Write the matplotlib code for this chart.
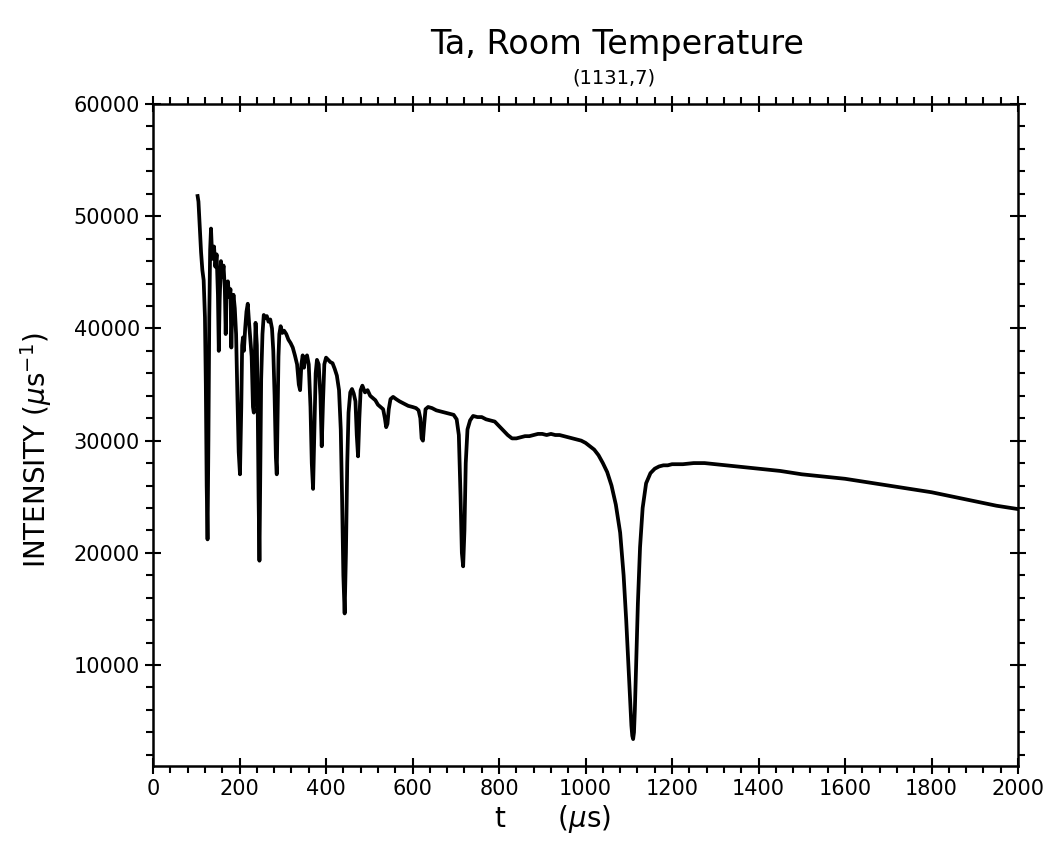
import matplotlib
matplotlib.use('Agg')
import matplotlib.pyplot as plt
from matplotlib.ticker import MultipleLocator

# time of flight (us) and intensity (1/us)
t_us = [103, 105, 108, 111, 114, 117, 120, 122, 124, 126, 128, 130, 132, 134, 136, 138,
        141, 144, 147, 150, 152, 154, 157, 160, 163, 166, 168, 170, 173, 176, 179, 181,
        183, 186, 189, 192, 195, 198, 201, 204, 206, 208, 210, 213, 216, 219, 222, 225,
        228, 231, 233, 235, 237, 240, 242, 244, 246, 248, 250, 253, 256, 259, 263, 267,
        271, 275, 278, 281, 284, 286, 288, 290, 292, 295, 299, 303, 308, 313, 318, 323,
        328, 333, 337, 340, 343, 346, 349, 352, 356, 360, 364, 367, 370, 373, 376, 379,
        383, 387, 390, 393, 396, 400, 405, 410, 415, 420, 425, 430, 434, 437, 440, 443,
        446, 449, 452, 456, 460, 464, 468, 471, 474, 477, 480, 484, 490, 496, 502, 508,
        514, 520, 526, 532, 536, 539, 542, 545, 549, 555, 562, 570, 580, 590, 600, 608,
        614, 618, 621, 624, 627, 630, 636, 645, 655, 665, 675, 685, 695, 702, 707, 711,
        714, 717, 720, 723, 727, 733, 740, 750, 760, 770, 780, 790, 800, 810, 820, 830,
        840, 850, 860, 870, 880, 890, 900, 910, 920, 930, 940, 950, 960, 970, 980, 990,
        1000, 1010, 1020, 1030, 1040, 1050, 1060, 1070, 1080, 1088, 1094, 1099, 1103, 1106, 1108, 1110,
        1112, 1114, 1117, 1121, 1126, 1132, 1140, 1150, 1160, 1170, 1180, 1190, 1200, 1225, 1250, 1275,
        1300, 1350, 1400, 1450, 1500, 1550, 1600, 1650, 1700, 1750, 1800, 1850, 1900, 1950, 2000]

intensity = [51800, 51300, 49000, 46800, 45200, 44300, 41000, 35000, 26000, 21200, 30000, 41000, 47000, 48900, 47000, 46200,
             47300, 45500, 46600, 43000, 38000, 42500, 46000, 44600, 45600, 43500, 39500, 43800, 44200, 42800, 43500, 38300,
             41500, 43000, 41800, 39500, 34000, 29000, 27000, 33000, 38500, 39200, 38000, 40000, 41500, 42200, 40500, 39000,
             37500, 33000, 32500, 37000, 40500, 38500, 33000, 25000, 19300, 27000, 35500, 39500, 41200, 40900, 41100, 40600,
             40800, 40000, 38000, 34000, 28500, 27000, 32000, 37500, 39500, 40200, 39600, 39800, 39500, 39000, 38700, 38300,
             37600, 36800, 35000, 34500, 36800, 37600, 36500, 37300, 37600, 36800, 33000, 28000, 25700, 31000, 36000, 37200,
             36800, 34000, 29500, 33500, 36800, 37400, 37200, 37000, 36900, 36400, 35800, 34500, 31000, 25000, 18000, 14600,
             20000, 28000, 32500, 34300, 34600, 34200, 33500, 30500, 28600, 32000, 34500, 34900, 34300, 34500, 34000, 33800,
             33600, 33200, 33000, 32800, 32000, 31200, 31500, 32800, 33700, 33900, 33700, 33500, 33300, 33100, 33000, 32900,
             32700, 32000, 30200, 30000, 31500, 32800, 33000, 32900, 32700, 32600, 32500, 32400, 32300, 31900, 30500, 25000,
             20000, 18800, 22000, 28000, 31000, 31800, 32200, 32100, 32100, 31900, 31800, 31700, 31300, 30900, 30500, 30200,
             30200, 30300, 30400, 30400, 30500, 30600, 30600, 30500, 30600, 30500, 30500, 30400, 30300, 30200, 30100, 30000,
             29800, 29500, 29200, 28700, 28000, 27200, 26000, 24300, 21800, 18000, 14000, 10000, 6800, 4600, 3700, 3400,
             4000, 6000, 10000, 15500, 20500, 24000, 26200, 27100, 27500, 27700, 27800, 27800, 27900, 27900, 28000, 28000,
             27900, 27700, 27500, 27300, 27000, 26800, 26600, 26300, 26000, 25700, 25400, 25000, 24600, 24200, 23900]

x_ticks = [0, 200, 400, 600, 800, 1000, 1200, 1400, 1600, 1800, 2000]
y_ticks = [10000, 20000, 30000, 40000, 50000, 60000]

plt.rcParams['font.family'] = ['DejaVu Sans']

fig = plt.figure(figsize=(10.49, 8.43), dpi=100)
ax = fig.add_axes([0.1459, 0.0913, 0.8246, 0.7853])

ax.plot(t_us, intensity, color='black', linewidth=2.7, solid_joinstyle='round')

ax.set_xlim(0, 2000)
ax.set_ylim(1000, 60000)
ax.set_xticks(x_ticks)
ax.set_yticks(y_ticks)
ax.xaxis.set_minor_locator(MultipleLocator(40))
ax.yaxis.set_minor_locator(MultipleLocator(2000))

ax.tick_params(which='both', top=True, right=True, labelsize=15, width=1.5)
ax.tick_params(which='major', direction='inout', length=11, pad=4)
ax.tick_params(which='minor', direction='out', length=5)
for sp in ax.spines.values():
    sp.set_linewidth(1.8)

fig.text(0.588, 0.947, 'Ta, Room Temperature', ha='center', va='center', fontsize=24)
fig.text(0.585, 0.908, '(1131,7)', ha='center', va='center', fontsize=14)
fig.text(0.527, 0.028, r't      ($\mu$s)', ha='center', va='center', fontsize=20)
fig.text(0.034, 0.466, r'INTENSITY ($\mu$s$^{-1}$)', ha='center', va='center',
         rotation=90, fontsize=20)

fig.savefig('out.png', dpi=100)
